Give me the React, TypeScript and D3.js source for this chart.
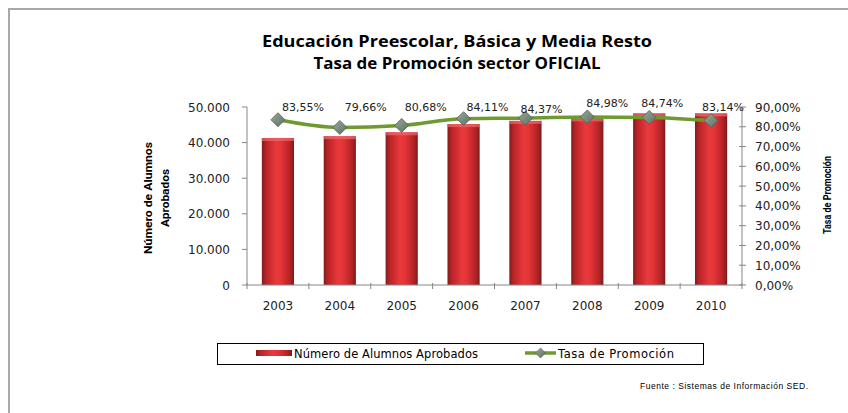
import React from "react";
import * as d3 from "d3";

const years = ["2003", "2004", "2005", "2006", "2007", "2008", "2009", "2010"];
const aprobados = [41300, 41800, 42900, 45200, 46100, 46800, 48200, 48200];
const tasa = [0.8355, 0.7966, 0.8068, 0.8411, 0.8437, 0.8498, 0.8474, 0.8314];
const tasaLabels = ["83,55%", "79,66%", "80,68%", "84,11%", "84,37%", "84,98%", "84,74%", "83,14%"];
const leftTicks = [0, 10000, 20000, 30000, 40000, 50000];
const leftTickLabels = ["0", "10.000", "20.000", "30.000", "40.000", "50.000"];
const rightTicks = [0, 0.1, 0.2, 0.3, 0.4, 0.5, 0.6, 0.7, 0.8, 0.9];
const rightTickLabels = ["0,00%", "10,00%", "20,00%", "30,00%", "40,00%", "50,00%", "60,00%", "70,00%", "80,00%", "90,00%"];

// layout-only label nudges (pixels)
const labelDx = [25, 26, 24, 24, 16, 20, 13, 12];
const labelY = [111, 111, 111, 111, 113, 107, 107, 111];

const W = 848, H = 413;
const L = 247, R = 742, T = 107, B = 285;

export default function App() {
  const x = d3.scaleBand<string>().domain(years).range([L, R]).paddingInner(0).paddingOuter(0);
  const yL = d3.scaleLinear().domain([0, 50000]).range([B, T]);
  const yR = d3.scaleLinear().domain([0, 0.9]).range([B, T]);
  const bw = x.bandwidth() * 0.52;
  const cx = (d: string) => (x(d) as number) + x.bandwidth() / 2;
  const line = d3.line<number>().x((_, i) => cx(years[i])).y((d) => yR(d)).curve(d3.curveMonotoneX);
  const axisFont = "DejaVu Sans, Verdana, sans-serif";
  const titleFont = "Roboto, Open Sans, sans-serif";
  const boundaries = d3.range(years.length + 1).map((i) => L + i * x.step());

  return (
    <svg width={W} height={H} style={{ position: "absolute", left: 0, top: 0, background: "#fff" }}>
      <defs>
        <linearGradient id="barG" x1="0" x2="1" y1="0" y2="0">
          <stop offset="0%" stopColor="#7e1c1c" />
          <stop offset="12%" stopColor="#b82326" />
          <stop offset="45%" stopColor="#e9393d" />
          <stop offset="60%" stopColor="#e33438" />
          <stop offset="88%" stopColor="#b22225" />
          <stop offset="100%" stopColor="#7a1b1b" />
        </linearGradient>
        <linearGradient id="mkG" x1="0" x2="1" y1="0" y2="1">
          <stop offset="0%" stopColor="#9aaa9c" />
          <stop offset="100%" stopColor="#5b6f60" />
        </linearGradient>
      </defs>
      <rect x={0} y={0} width={W} height={H} fill="#fff" />
      <path d={`M9,${H} L9,9 L${W},9`} fill="none" stroke="#a9a9a9" strokeWidth={2} />

      <text x={457} y={47} textAnchor="middle" fontFamily="Open Sans, sans-serif" fontWeight="bold" fontSize={16}
        textLength={390} lengthAdjust="spacingAndGlyphs" fill="#000">Educación Preescolar, Básica y Media Resto</text>
      <text x={457} y={69} textAnchor="middle" fontFamily="Open Sans, sans-serif" fontWeight="bold" fontSize={16}
        textLength={287} lengthAdjust="spacingAndGlyphs" fill="#000">Tasa de Promoción sector OFICIAL</text>

      {/* bars */}
      {years.map((yr, i) => (
        <g key={yr}>
          <rect x={cx(yr) - bw / 2} y={yL(aprobados[i])} width={bw} height={B - yL(aprobados[i])} fill="url(#barG)" />
          <rect x={cx(yr) - bw / 2} y={yL(aprobados[i])} width={bw} height={3} fill="#f06a6c" opacity={0.7} />
        </g>
      ))}

      {/* axes */}
      <g stroke="#868686" strokeWidth={1}>
        <line x1={L} x2={L} y1={T} y2={B} />
        <line x1={R} x2={R} y1={T} y2={B} />
        <line x1={L} x2={R} y1={B} y2={B} />
        {leftTicks.map((t) => <line key={t} x1={L - 5} x2={L} y1={yL(t)} y2={yL(t)} />)}
        {rightTicks.map((t) => <line key={t} x1={R - 3} x2={R + 4} y1={yR(t)} y2={yR(t)} />)}
        {boundaries.map((b, i) => <line key={i} x1={b} x2={b} y1={B - 2} y2={B + 4} />)}
      </g>
      <g fontFamily={axisFont} fontSize={12} fill="#222">
        {leftTicks.map((t, i) => (
          <text key={t} x={230} y={yL(t) + 4.5} textAnchor="end">{leftTickLabels[i]}</text>
        ))}
        {rightTicks.map((t, i) => (
          <text key={t} x={755} y={yR(t) + 4.5} textAnchor="start">{rightTickLabels[i]}</text>
        ))}
        {years.map((yr) => (
          <text key={yr} x={cx(yr)} y={310} textAnchor="middle">{yr}</text>
        ))}
      </g>

      {/* axis titles */}
      <g fontFamily={titleFont} fontWeight="bold" fontSize={11} fill="#000">
        <text transform="translate(152,198) rotate(-90)" textAnchor="middle" textLength={112} lengthAdjust="spacingAndGlyphs">Número de Alumnos</text>
        <text transform="translate(169,198) rotate(-90)" textAnchor="middle" textLength={58} lengthAdjust="spacingAndGlyphs">Aprobados</text>
        <text transform="translate(831,195) rotate(-90)" textAnchor="middle" textLength={78} lengthAdjust="spacingAndGlyphs">Tasa de Promoción</text>
      </g>

      {/* line */}
      <path d={line(tasa) as string} fill="none" stroke="#6f9a2f" strokeWidth={3.5} />
      {tasa.map((v, i) => {
        const px = cx(years[i]), py = yR(v), s = 7;
        return <path key={i} d={`M${px},${py - s} L${px + s},${py} L${px},${py + s} L${px - s},${py} Z`} fill="url(#mkG)" stroke="#4f5f52" strokeWidth={0.8} />;
      })}
      <g fontFamily={axisFont} fontSize={11} fill="#222">
        {tasa.map((v, i) => (
          <text key={i} x={cx(years[i]) + labelDx[i]} y={labelY[i]} textAnchor="middle">{tasaLabels[i]}</text>
        ))}
      </g>

      {/* legend */}
      <rect x={217.5} y={343.5} width={486} height={21} fill="#fff" stroke="#000" strokeWidth={1} />
      <rect x={256} y={350} width={36} height={6} fill="url(#barG)" />
      <text x={294} y={358} fontFamily={axisFont} fontSize={11.5} fill="#000" textLength={184} lengthAdjust="spacing">Número de Alumnos Aprobados</text>
      <line x1={525} x2={556} y1={353} y2={353} stroke="#6f9a2f" strokeWidth={3.5} />
      <path d="M540.5,348 L545.5,353 L540.5,358 L535.5,353 Z" fill="url(#mkG)" stroke="#4f5f52" strokeWidth={0.6} />
      <text x={558} y={358} fontFamily={axisFont} fontSize={11.5} fill="#000" textLength={116} lengthAdjust="spacing">Tasa de Promoción</text>

      <text x={640} y={389} fontFamily="Liberation Sans, Arial, sans-serif" fontSize={8.5} fill="#000" textLength={168} lengthAdjust="spacing">Fuente :  Sistemas de Información SED.</text>
    </svg>
  );
}
